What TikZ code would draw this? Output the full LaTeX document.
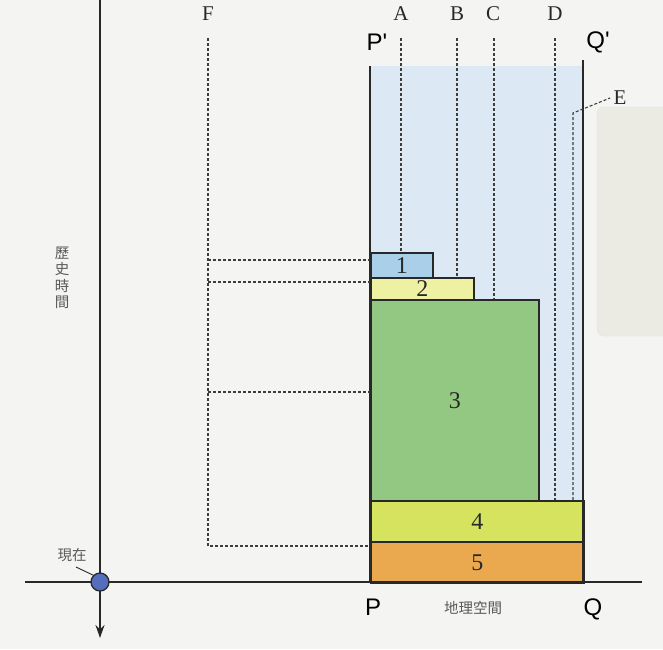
\documentclass[tikz,border=0pt]{standalone}
\usepackage{fontspec}
\setmainfont{Liberation Serif}
\newfontfamily\sansf{Liberation Sans}
\newfontfamily\cjk{Noto Sans CJK TC}
\usetikzlibrary{arrows.meta}
\definecolor{bg}{RGB}{244,244,243}
\definecolor{skyfill}{RGB}{220,233,244}
\definecolor{cone}{RGB}{169,207,233}
\definecolor{ctwo}{RGB}{238,240,162}
\definecolor{cthree}{RGB}{147,200,130}
\definecolor{cfour}{RGB}{214,227,94}
\definecolor{cfive}{RGB}{234,169,78}
\definecolor{dot}{RGB}{84,110,190}
\definecolor{notec}{RGB}{236,235,227}
\definecolor{ink}{RGB}{40,40,40}
\tikzset{
  box/.style={draw=ink, line width=1.5pt, anchor=north west, inner sep=0pt, font=\fontsize{24}{24}\selectfont, text=ink},
  guide/.style={draw=ink!90, line width=1.1pt, dash pattern=on 3pt off 2pt},
  letter/.style={font=\fontsize{21}{21}\selectfont, text=ink},
  pt/.style={font=\sansf\fontsize{24}{24}\selectfont, text=black},
  cjklabel/.style={font=\cjk\fontsize{14.5}{16.5}\selectfont, text=black!65},
  axis/.style={draw=ink, line width=2pt},
  edge/.style={draw=ink, line width=1.8pt}
}
\begin{document}
\begin{tikzpicture}[x=1pt,y=-1pt]
\useasboundingbox (0,0) rectangle (663,649);
\clip (0,0) rectangle (663,649);
\fill[bg] (0,0) rectangle (663,649);
% note paper
\fill[notec, draw=black!12, rounded corners=7pt] (597,107) rectangle (680,336);
% sky region
\fill[skyfill] (370,66) rectangle (583,500);
% boxes
\node[box, fill=cone, minimum width=62pt, minimum height=25pt] (b1) at (370,252) {1};
\node[box, fill=ctwo, minimum width=103pt, minimum height=22pt] (b2) at (370,277) {2};
\node[box, fill=cthree, minimum width=168pt, minimum height=201pt] (b3) at (370,299) {3};
\node[box, fill=cfour, minimum width=213pt, minimum height=41pt] (b4) at (370,500) {4};
\node[box, fill=cfive, minimum width=213pt, minimum height=41pt] (b5) at (370,541) {5};
% edges P'-P and Q'-Q
\coordinate (Ptop) at (370,66);
\coordinate (Pbot) at (370,582);
\coordinate (Qtop) at (583,60);
\coordinate (Qbot) at (583,582);
\draw[edge] (Ptop) -- (Pbot);
\draw[edge] (Qtop) -- (Qbot);
% letters
\node[letter] (A) at (401,14) {A};
\node[letter] (B) at (457,14) {B};
\node[letter] (C) at (493,14) {C};
\node[letter] (D) at (555,14) {D};
\node[letter] (F) at (208,14) {F};
\node[letter] (E) at (620,98) {E};
% guides
\coordinate (At) at (401,38);
\coordinate (Bt) at (457,38);
\coordinate (Ct) at (494,38);
\coordinate (Dt) at (555,38);
\draw[guide] (At) -- (At |- b1.north);
\draw[guide] (Bt) -- (Bt |- b2.north);
\draw[guide] (Ct) -- (Ct |- b3.north);
\draw[guide] (Dt) -- (Dt |- b4.north);
\coordinate (Eb) at (573,500);
\coordinate (Ec) at (573,113);
\draw[guide] (Eb) -- (Ec) -- (E.west);
\coordinate (Ft) at (208,38);
\coordinate (Fb) at (208,546);
\coordinate (F1) at (208,260);
\coordinate (F2) at (208,282);
\coordinate (F3) at (208,392);
\draw[guide] (Ft) -- (Fb) -- (Pbot |- Fb);
\draw[guide] (F1) -- (Pbot |- F1);
\draw[guide] (F2) -- (Pbot |- F2);
\draw[guide] (F3) -- (Pbot |- F3);
% axes
\coordinate (Vtop) at (100,0);
\coordinate (Vbot) at (100,638);
\coordinate (Hl) at (25,582);
\coordinate (Hr) at (642,582);
\draw[axis] (Hl) -- (Hr);
\draw[axis, -{Stealth[length=13pt,width=9pt]}] (Vtop) -- (Vbot);
\node[circle, draw=ink, line width=1.3pt, fill=dot, minimum size=18pt, inner sep=0pt] (now) at (100,582) {};
% labels
\node[cjklabel] (nowlab) at (72,555) {現在};
\draw[ink, line width=0.9pt] (76,567) -- (now.north west);
\node[cjklabel, align=center] (time) at (62,278) {歷\\史\\時\\間};
\node[cjklabel] (space) at (473,608) {地理空間};
\node[pt] (P) at (373,607) {P};
\node[pt] (Q) at (593,609) {Q};
\node[pt] (Pp) at (377,42) {P'};
\node[pt] (Qp) at (598,42) {Q'};
\end{tikzpicture}
\end{document}
